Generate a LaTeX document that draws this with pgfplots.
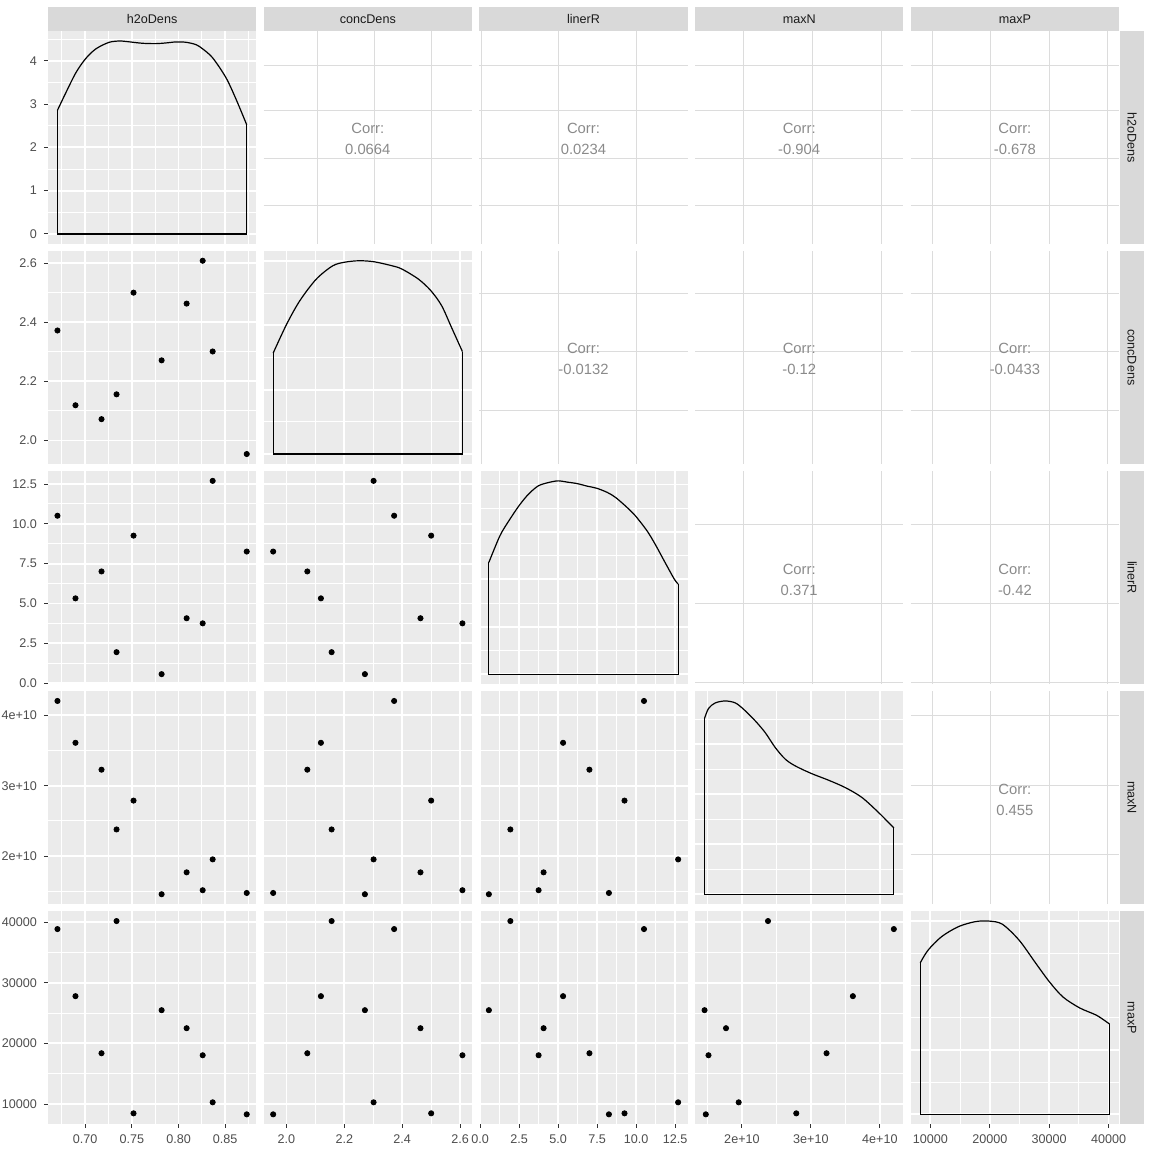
\documentclass[border=0pt]{standalone}
\usepackage{fontspec}
\setmainfont{Liberation Sans}
\usepackage{pgfplots}
\pgfplotsset{compat=1.18}
\usepackage{pgfplotstable}

\definecolor{panelbg}{HTML}{EBEBEB}
\definecolor{stripbg}{HTML}{D9D9D9}
\definecolor{labc}{HTML}{4D4D4D}
\definecolor{tickc}{HTML}{333333}
\definecolor{stripc}{HTML}{1A1A1A}
\definecolor{corrc}{HTML}{8A8A8A}
\definecolor{corrgrid}{HTML}{DCDCDC}

% observations (maxN in units of 1e10)
\pgfplotstableread{
h      c      L      N      P
0.6703 2.372  10.51  4.203  38843
0.6896 2.119  5.32   3.609  27781
0.7175 2.072  7.01   3.227  18371
0.7336 2.156  1.94   2.378  40164
0.7518 2.500  9.26   2.788  8465
0.7819 2.271  0.56   1.458  25470
0.8087 2.463  4.07   1.769  22498
0.8259 2.608  3.75   1.515  18040
0.8366 2.301  12.70  1.953  10281
0.8731 1.954  8.26   1.476  8300
}\obs

\pgfplotsset{
  panel/.style={scale only axis, width=104.1pt, height=106.3pt,
    axis background/.style={fill=panelbg}, axis line style={draw=none},
    grid=both, major grid style={white, line width=0.9pt},
    minor grid style={white, line width=0.45pt},
    tick align=outside, tick pos=left,
    major tick length=0pt, minor tick length=0pt,
    tick style={tickc, line width=0.5pt},
    scaled x ticks=false, scaled y ticks=false,
    xticklabels={}, yticklabels={},
    ticklabel style={font=\fontsize{6.3}{7}\selectfont, text=labc},
    /pgf/number format/assume math mode=true},
  corr/.style={scale only axis, width=104.1pt, height=106.3pt,
    xmin=0, xmax=1, ymin=0, ymax=1, axis line style={draw=none},
    xmajorgrids, ymajorgrids, major grid style={corrgrid, line width=0.5pt},
    major tick length=0pt, xticklabels={}, yticklabels={}},
  leftax/.style={major tick length=2pt, xtick style={draw=none}},
  botax/.style={major tick length=2pt, ytick style={draw=none}},
  pts/.style={only marks, mark=*, mark size=1.3pt, black},
  dens/.style={black, line width=0.6pt, no marks},
  % variable scales
  xh/.style={xmin=0.66016, xmax=0.88324, xtick={0.70,0.75,0.80,0.85}, minor xtick={0.675,0.725,0.775,0.825,0.875}},
  yh/.style={ymin=0.66016, ymax=0.88324, ytick={0.70,0.75,0.80,0.85}, minor ytick={0.675,0.725,0.775,0.825,0.875}},
  xc/.style={xmin=1.9213, xmax=2.6407, xtick={2.0,2.2,2.4,2.6}, minor xtick={2.1,2.3,2.5}},
  yc/.style={ymin=1.9213, ymax=2.6407, ytick={2.0,2.2,2.4,2.6}, minor ytick={2.1,2.3,2.5}},
  xL/.style={xmin=-0.047, xmax=13.307, xtick={0,2.5,5,7.5,10,12.5}, minor xtick={1.25,3.75,6.25,8.75,11.25}},
  yL/.style={ymin=-0.047, ymax=13.307, ytick={0,2.5,5,7.5,10,12.5}, minor ytick={1.25,3.75,6.25,8.75,11.25}},
  xN/.style={xmin=1.3208, xmax=4.3403, xtick={2,3,4}, minor xtick={1.5,2.5,3.5}},
  yN/.style={ymin=1.3208, ymax=4.3403, ytick={2,3,4}, minor ytick={1.5,2.5,3.5}},
  xP/.style={xmin=6707, xmax=41757, xtick={10000,20000,30000,40000}, minor xtick={15000,25000,35000}},
  yP/.style={ymin=6707, ymax=41757, ytick={10000,20000,30000,40000}, minor ytick={15000,25000,35000}},
  xhl/.style={xticklabels={0.70,0.75,0.80,0.85}},
  xcl/.style={xticklabels={2.0,2.2,2.4,2.6}},
  xLl/.style={xticklabels={0.0,2.5,5.0,7.5,10.0,12.5}},
  xNl/.style={xticklabels={2e+10,3e+10,4e+10}},
  xPl/.style={xticklabels={10000,20000,30000,40000}},
  ycl/.style={yticklabels={2.0,2.2,2.4,2.6}},
  yLl/.style={yticklabels={0.0,2.5,5.0,7.5,10.0,12.5}},
  yNl/.style={yticklabels={2e+10,3e+10,4e+10}},
  yPl/.style={yticklabels={10000,20000,30000,40000}},
  % density y scales
  dy1/.style={ymin=-0.2235, ymax=4.69, ytick={0,1,2,3,4}, minor ytick={0.5,1.5,2.5,3.5,4.5}, yticklabels={0,1,2,3,4}},
  dy2/.style={ymin=-0.05, ymax=1.05, ytick={0,0.3333,0.6667,1}, minor ytick={0.1667,0.5,0.8333}},
  dy3/.style={ymin=-0.05, ymax=1.05, ytick={0,0.2454,0.4908,0.7362,0.9816}, minor ytick={0.1227,0.3681,0.6135,0.8589}},
  dy4/.style={ymin=-0.05, ymax=1.05, ytick={0,0.259,0.518,0.777}, minor ytick={0.1295,0.3885,0.6475,0.9065}},
  % correlation panel grids
  cx2/.style={xtick={0.256,0.530,0.806}},
  cx3/.style={xtick={0.011,0.382,0.753}},
  cx4/.style={xtick={0.231,0.563,0.894}},
  cx5/.style={xtick={0.103,0.383,0.665,0.947}},
  cy1/.style={ytick={0.181,0.402,0.624,0.839}},
  cy2/.style={ytick={0.25,0.528,0.802}},
  cy3/.style={ytick={0.005,0.377,0.75}},
  cy4/.style={ytick={0.231,0.557,0.885}},
}
\newcommand{\corrtext}[1]{\node[text=corrc, font=\fontsize{7.4}{10.5}\selectfont, align=center, yshift=-1pt] at (axis cs:0.5,0.5) {Corr:\\#1};}

\begin{document}
\begin{tikzpicture}
\useasboundingbox (0,0) rectangle (576pt,576pt);

% ---------- strips ----------
\foreach \x/\t in {24/h2oDens,131.85/concDens,239.7/linerR,347.55/maxN,455.4/maxP}{
  \fill[stripbg] (\x pt,560.5pt) rectangle ++(104.1pt,12pt);
  \node[text=stripc, font=\fontsize{6.3}{7}\selectfont] at ([xshift=52.05pt]\x pt,566.5pt) {\t};
}
\foreach \y/\t in {454.2/h2oDens,344.15/concDens,234.1/linerR,124.05/maxN,14.0/maxP}{
  \fill[stripbg] (560pt,\y pt) rectangle ++(12pt,106.3pt);
  \node[text=stripc, font=\fontsize{6.3}{7}\selectfont, rotate=-90] at ([yshift=53.15pt]566pt,\y pt) {\t};
}

% ---------- row 1 ----------
\begin{axis}[panel, xh, dy1, leftax, at={(24pt,454.2pt)}, anchor=south west]
  \addplot[dens, smooth] coordinates {(0.6703,2.858) (0.6793,3.264) (0.6900,3.724) (0.7003,4.046) (0.7114,4.276) (0.7257,4.429) (0.7383,4.460) (0.7454,4.444) (0.7615,4.406) (0.7758,4.398) (0.7866,4.414) (0.7973,4.437) (0.8080,4.429) (0.8187,4.375) (0.8259,4.276) (0.8366,4.069) (0.8509,3.609) (0.8617,3.111) (0.8731,2.521)};
  \addplot[dens] coordinates {(0.6703,2.858) (0.6703,0) (0.8731,0) (0.8731,2.521)};
\end{axis}
\begin{axis}[corr, cx2, cy1, at={(131.85pt,454.2pt)}, anchor=south west] \corrtext{0.0664} \end{axis}
\begin{axis}[corr, cx3, cy1, at={(239.7pt,454.2pt)}, anchor=south west] \corrtext{0.0234} \end{axis}
\begin{axis}[corr, cx4, cy1, at={(347.55pt,454.2pt)}, anchor=south west] \corrtext{-0.904} \end{axis}
\begin{axis}[corr, cx5, cy1, at={(455.4pt,454.2pt)}, anchor=south west] \corrtext{-0.678} \end{axis}

% ---------- row 2 ----------
\begin{axis}[panel, xh, yc, ycl, leftax, at={(24pt,344.15pt)}, anchor=south west]
  \addplot[pts] table[x=h, y=c] {\obs};
\end{axis}
\begin{axis}[panel, xc, dy2, at={(131.85pt,344.15pt)}, anchor=south west]
  \addplot[dens, smooth] coordinates {(1.954,0.522) (2.000,0.670) (2.046,0.793) (2.103,0.905) (2.160,0.974) (2.203,0.993) (2.251,1.0) (2.302,0.995) (2.365,0.974) (2.399,0.957) (2.456,0.905) (2.499,0.845) (2.536,0.768) (2.570,0.656) (2.608,0.530)};
  \addplot[dens] coordinates {(1.954,0.522) (1.954,0) (2.608,0) (2.608,0.530)};
\end{axis}
\begin{axis}[corr, cx3, cy2, at={(239.7pt,344.15pt)}, anchor=south west] \corrtext{-0.0132} \end{axis}
\begin{axis}[corr, cx4, cy2, at={(347.55pt,344.15pt)}, anchor=south west] \corrtext{-0.12} \end{axis}
\begin{axis}[corr, cx5, cy2, at={(455.4pt,344.15pt)}, anchor=south west] \corrtext{-0.0433} \end{axis}

% ---------- row 3 ----------
\begin{axis}[panel, xh, yL, yLl, leftax, at={(24pt,234.1pt)}, anchor=south west]
  \addplot[pts] table[x=h, y=L] {\obs};
\end{axis}
\begin{axis}[panel, xc, yL, at={(131.85pt,234.1pt)}, anchor=south west]
  \addplot[pts] table[x=c, y=L] {\obs};
\end{axis}
\begin{axis}[panel, xL, dy3, at={(239.7pt,234.1pt)}, anchor=south west]
  \addplot[dens, smooth] coordinates {(0.56,0.578) (1.27,0.716) (1.84,0.793) (2.49,0.871) (3.10,0.931) (3.73,0.974) (4.37,0.991) (5.0,1.0) (5.63,0.993) (6.22,0.986) (6.90,0.972) (7.47,0.962) (8.16,0.940) (8.69,0.914) (9.43,0.862) (9.96,0.819) (10.70,0.742) (11.22,0.673) (11.86,0.578) (12.45,0.492) (12.70,0.466)};
  \addplot[dens] coordinates {(0.56,0.578) (0.56,0) (12.70,0) (12.70,0.466)};
\end{axis}
\begin{axis}[corr, cx4, cy3, at={(347.55pt,234.1pt)}, anchor=south west] \corrtext{0.371} \end{axis}
\begin{axis}[corr, cx5, cy3, at={(455.4pt,234.1pt)}, anchor=south west] \corrtext{-0.42} \end{axis}

% ---------- row 4 ----------
\begin{axis}[panel, xh, yN, yNl, leftax, at={(24pt,124.05pt)}, anchor=south west]
  \addplot[pts] table[x=h, y=N] {\obs};
\end{axis}
\begin{axis}[panel, xc, yN, at={(131.85pt,124.05pt)}, anchor=south west]
  \addplot[pts] table[x=c, y=N] {\obs};
\end{axis}
\begin{axis}[panel, xL, yN, at={(239.7pt,124.05pt)}, anchor=south west]
  \addplot[pts] table[x=L, y=N] {\obs};
\end{axis}
\begin{axis}[panel, xN, dy4, at={(347.55pt,124.05pt)}, anchor=south west]
  \addplot[dens, smooth] coordinates {(1.458,0.910) (1.517,0.962) (1.614,0.990) (1.758,1.0) (1.903,0.990) (2.024,0.957) (2.193,0.897) (2.338,0.836) (2.483,0.759) (2.628,0.699) (2.773,0.664) (3.005,0.625) (3.256,0.590) (3.498,0.552) (3.739,0.501) (3.981,0.423) (4.203,0.343)};
  \addplot[dens] coordinates {(1.458,0.910) (1.458,0) (4.203,0) (4.203,0.343)};
\end{axis}
\begin{axis}[corr, cx5, cy4, at={(455.4pt,124.05pt)}, anchor=south west] \corrtext{0.455} \end{axis}

% ---------- row 5 ----------
\begin{axis}[panel, xh, yP, xhl, yPl, major tick length=2pt, at={(24pt,14pt)}, anchor=south west]
  \addplot[pts] table[x=h, y=P] {\obs};
\end{axis}
\begin{axis}[panel, xc, yP, xcl, botax, at={(131.85pt,14pt)}, anchor=south west]
  \addplot[pts] table[x=c, y=P] {\obs};
\end{axis}
\begin{axis}[panel, xL, yP, xLl, botax, at={(239.7pt,14pt)}, anchor=south west]
  \addplot[pts] table[x=L, y=P] {\obs};
\end{axis}
\begin{axis}[panel, xN, yP, xNl, botax, at={(347.55pt,14pt)}, anchor=south west]
  \addplot[pts] table[x=N, y=P] {\obs};
\end{axis}
\begin{axis}[panel, xP, dy2, xPl, botax, at={(455.4pt,14pt)}, anchor=south west]
  \addplot[dens, smooth] coordinates {(8300,0.784) (9602,0.849) (11875,0.919) (14716,0.971) (17557,0.997) (19830,1.0) (22102,0.984) (24943,0.901) (27784,0.780) (30057,0.685) (32330,0.607) (35170,0.550) (38011,0.512) (40164,0.467)};
  \addplot[dens] coordinates {(8300,0.784) (8300,0) (40164,0) (40164,0.467)};
\end{axis}
\end{tikzpicture}
\end{document}
